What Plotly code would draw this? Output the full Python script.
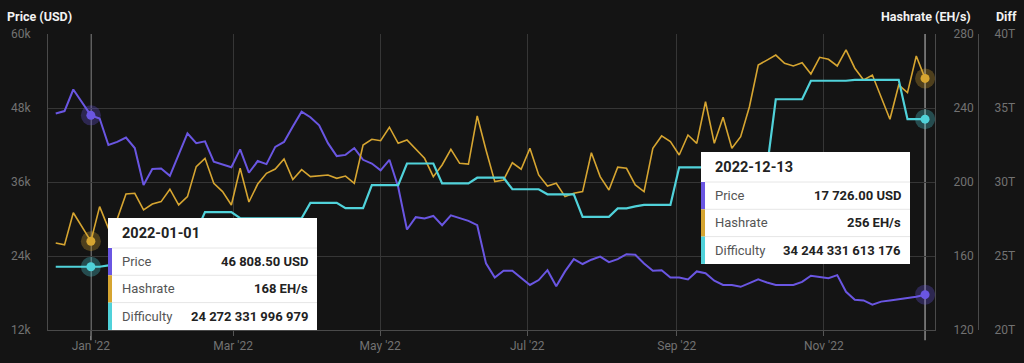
import pandas as pd
import plotly.graph_objects as go

# ---------------- data ----------------
price_usd = [47100, 47500, 51000, 49000, 46808.5, 46300, 42000, 42500, 43200, 41500,
             35500, 38100, 38200, 37000, 40400, 43900, 42300, 42600, 39300, 38800,
             38400, 41300, 37500, 39400, 38900, 41700, 42500, 45000, 47400, 46500,
             45200, 42300, 40200, 40400, 41500, 39600, 39000, 37900, 39600, 35200,
             28300, 30300, 30100, 30500, 29000, 30600, 30100, 29700, 29000, 22800,
             20500, 21600, 21600, 20400, 19300, 20100, 21700, 19100, 21500, 23500,
             22700, 23400, 23900, 23000, 23500, 24300, 24200, 22800, 21600, 21700,
             20500, 20500, 20200, 21500, 21200, 20000, 19300, 19300, 19000, 19600,
             20200, 19700, 19300, 19300, 19300, 19800, 20800, 20600, 20400, 20900,
             18200, 16900, 16800, 16100, 16600, 16800, 17000, 17100, 17400, 17726]

hashrate_ehs = [167, 166, 183.4, 175.8, 168, 186.7, 175, 180, 193.5, 193.9,
                184.9, 188.1, 189.4, 196.1, 187.6, 192.1, 208.3, 212.8, 199.3, 194.8,
                187.6, 207.4, 189.2, 198.9, 204.7, 207.0, 212.5, 201.3, 206.7, 202.9,
                203.2, 203.8, 202.0, 203.2, 199.3, 220.0, 223.1, 222.3, 229.6, 220.9,
                222.7, 217.7, 212.8, 202.9, 209.2, 217.7, 210.1, 209.7, 235.7, 217.3,
                200.2, 201.1, 210.4, 206.9, 218.2, 203.8, 197.8, 199.3, 192.1, 193.9,
                194.8, 215.8, 202.9, 195.7, 208.0, 207.4, 198.4, 194.8, 218.2, 224.9,
                221.8, 214.6, 225.4, 220.9, 243.4, 220.9, 235.0, 218.2, 224.5, 240.7,
                263.2, 265.9, 268.6, 264.2, 262.7, 264.5, 258.4, 267.4, 266.3, 262.7,
                271.4, 261.5, 255.1, 257.8, 246.1, 233.9, 252.4, 248.3, 268.1, 256]

difficulty_t = [24.272, 24.272, 24.272, 24.272, 24.272, 24.272,
                24.37, 24.37, 24.37, 24.37,
                26.69, 26.69, 26.69,
                26.64, 26.64, 26.64, 26.64,
                27.97, 27.97, 27.97, 27.97,
                27.55, 27.55, 27.55, 27.55, 27.55, 27.55, 27.55, 27.55,
                28.59, 28.59, 28.59, 28.59,
                28.23, 28.23, 28.23,
                29.79, 29.79, 29.79, 29.79,
                31.25, 31.25, 31.25, 31.25,
                29.91, 29.91, 29.91, 29.91,
                30.29, 30.29, 30.29, 30.29,
                29.51, 29.51, 29.51, 29.51,
                29.17, 29.17, 29.17, 29.17,
                27.65, 27.65, 27.65, 27.65,
                28.22, 28.22, 28.35,
                28.45, 28.45, 28.45, 28.45,
                30.99, 30.99, 30.99, 30.99, 30.99, 30.99, 30.99, 30.99, 30.99, 30.99, 30.99,
                35.59, 35.59, 35.59, 35.59,
                36.84, 36.84, 36.84, 36.84, 36.84,
                36.90, 36.90, 36.90, 36.90, 36.90, 36.90,
                34.244, 34.244, 34.244]

dates = pd.date_range(start="2021-12-17 10:00", end="2022-12-13", periods=len(price_usd))

x_tick_vals = ["2022-01-01", "2022-03-01", "2022-05-01", "2022-07-01", "2022-09-01", "2022-11-01"]
x_tick_text = ["Jan '22", "Mar '22", "May '22", "Jul '22", "Sep '22", "Nov '22"]
price_ticks = [12000, 24000, 36000, 48000, 60000]
price_tick_text = ["12k", "24k", "36k", "48k", "60k"]
hash_ticks = [120, 160, 200, 240, 280]
hash_tick_text = ["120", "160", "200", "240", "280"]
diff_ticks = [20, 25, 30, 35, 40]
diff_tick_text = ["20T", "25T", "30T", "35T", "40T"]

# tooltips (highlighted dates)
tips = [
    dict(date="2022-01-01", price=46808.50, hashrate=168, diff=24.272331996979,
         price_txt="46 808.50 USD", hash_txt="168 EH/s", diff_txt="24 272 331 996 979"),
    dict(date="2022-12-13", price=17726.00, hashrate=256, diff=34.244331613176,
         price_txt="17 726.00 USD", hash_txt="256 EH/s", diff_txt="34 244 331 613 176"),
]

# ---------------- style ----------------
BG = "#141414"
GRID = "#363636"
TICK_COL = "#727272"
PURPLE = "#6a56e2"
GOLD = "#d6a531"
CYAN = "#50d2da"
FONT = "Roboto"

W, H = 1024, 363
ML, MR, MT, MB = 48, 10, 34, 33
PW, PH = W - ML - MR, H - MT - MB
PLOT_RIGHT = 935


def px(x):
    return (x - ML) / PW


def py(y):
    return (H - MB - y) / PH


fig = go.Figure()
fig.add_trace(go.Scatter(x=dates, y=price_usd, mode="lines", yaxis="y",
                         line=dict(color=PURPLE, width=2), name="Price"))
fig.add_trace(go.Scatter(x=dates, y=hashrate_ehs, mode="lines", yaxis="y2",
                         line=dict(color=GOLD, width=1.6), name="Hashrate"))
fig.add_trace(go.Scatter(x=dates, y=difficulty_t, mode="lines", yaxis="y3",
                         line=dict(color=CYAN, width=2.2), name="Difficulty"))

# highlighted points
for t in tips:
    for val, axis, col in [(t["price"], "y", PURPLE), (t["hashrate"], "y2", GOLD), (t["diff"], "y3", CYAN)]:
        fig.add_trace(go.Scatter(x=[t["date"]], y=[val], mode="markers", yaxis=axis,
                                 marker=dict(size=20, color=col, opacity=0.3, line=dict(width=0))))
        fig.add_trace(go.Scatter(x=[t["date"]], y=[val], mode="markers", yaxis=axis,
                                 marker=dict(size=9, color=col, line=dict(width=0))))

shapes = []
annotations = []

# crosshairs
for t in tips:
    shapes.append(dict(type="line", xref="x", yref="paper", x0=t["date"], x1=t["date"],
                       y0=-0.035, y1=1, line=dict(color="rgba(235,235,235,0.55)", width=1.5),
                       layer="between"))


def tooltip(t, left, top, right, val_right):
    rows_top = top + 30
    rh = 27.3
    shapes.append(dict(type="rect", xref="paper", yref="paper", x0=px(left), x1=px(right),
                       y0=py(rows_top + 3 * rh), y1=py(top), fillcolor="white",
                       line=dict(width=0), layer="above"))
    cols = [PURPLE, GOLD, CYAN]
    labels = ["Price", "Hashrate", "Difficulty"]
    vals = [t["price_txt"], t["hash_txt"], t["diff_txt"]]
    annotations.append(dict(xref="paper", yref="paper", x=px(left + 12), y=py(top + 15.5),
                            text="<b>" + t["date"] + "</b>", showarrow=False, xanchor="left",
                            yanchor="middle", font=dict(family=FONT, size=14.5, color="#222222")))
    for k in range(3):
        y0 = rows_top + k * rh
        shapes.append(dict(type="line", xref="paper", yref="paper", x0=px(left + 4), x1=px(right),
                           y0=py(y0), y1=py(y0), line=dict(color="#e6e6e6", width=1), layer="above"))
        shapes.append(dict(type="rect", xref="paper", yref="paper", x0=px(left), x1=px(left + 4),
                           y0=py(y0 + rh), y1=py(y0), fillcolor=cols[k], line=dict(width=0),
                           layer="above"))
        annotations.append(dict(xref="paper", yref="paper", x=px(left + 12), y=py(y0 + rh / 2),
                                text=labels[k], showarrow=False, xanchor="left", yanchor="middle",
                                font=dict(family=FONT, size=13, color="#555555")))
        annotations.append(dict(xref="paper", yref="paper", x=px(val_right), y=py(y0 + rh / 2),
                                text="<b>" + vals[k] + "</b>", showarrow=False, xanchor="right",
                                yanchor="middle", font=dict(family=FONT, size=13, color="#222222")))


tooltip(tips[0], 108, 218, 317, 310)
tooltip(tips[1], 701, 152, 910, 903)

# axis titles
annotations.append(dict(xref="paper", yref="paper", x=px(5), y=py(16), text="<b>Price (USD)</b>",
                        showarrow=False, xanchor="left", yanchor="middle",
                        font=dict(family=FONT, size=12.5, color="#f2f2f2")))
annotations.append(dict(xref="paper", yref="paper", x=px(973), y=py(16), text="<b>Hashrate (EH/s)</b>",
                        showarrow=False, xanchor="right", yanchor="middle",
                        font=dict(family=FONT, size=12.5, color="#f2f2f2")))
annotations.append(dict(xref="paper", yref="paper", x=px(994), y=py(16), text="<b>Diff</b>",
                        showarrow=False, xanchor="left", yanchor="middle",
                        font=dict(family=FONT, size=12.5, color="#f2f2f2")))

tickfont = dict(family=FONT, size=12, color=TICK_COL)

fig.update_layout(
    width=W, height=H,
    margin=dict(l=ML, r=MR, t=MT, b=MB),
    paper_bgcolor=BG, plot_bgcolor=BG,
    showlegend=False,
    shapes=shapes, annotations=annotations,
    xaxis=dict(domain=[0, px(PLOT_RIGHT)], type="date",
               range=["2021-12-14 05:00", "2022-12-17 03:00"],
               tickvals=x_tick_vals, ticktext=x_tick_text, tickfont=tickfont,
               showgrid=True, gridcolor=GRID, gridwidth=1,
               ticks="outside", ticklen=5, tickcolor="#555555",
               showline=True, linecolor="#4a4a4a", linewidth=1, zeroline=False),
    yaxis=dict(range=[12000, 60000], tickvals=price_ticks, ticktext=price_tick_text,
               tickfont=tickfont, showgrid=True, gridcolor=GRID, zeroline=False,
               showline=True, linecolor="#4a4a4a", ticks="", ticklabelstandoff=14),
    yaxis2=dict(range=[120, 280], tickvals=hash_ticks, ticktext=hash_tick_text,
                tickfont=tickfont, overlaying="y", side="right", anchor="x",
                showgrid=False, zeroline=False, showline=True, linecolor="#4a4a4a",
                ticks="", ticklabelstandoff=15),
    yaxis3=dict(range=[20, 40], tickvals=diff_ticks, ticktext=diff_tick_text,
                tickfont=tickfont, overlaying="y", side="right", anchor="free",
                position=px(978), showgrid=False, zeroline=False, showline=True,
                linecolor="#4a4a4a", ticks="", ticklabelstandoff=13),
)

fig.write_html("out.html",
               config={"displayModeBar": False},
               post_script="document.body.style.margin='0';"
                           "document.body.style.background='#141414';")
